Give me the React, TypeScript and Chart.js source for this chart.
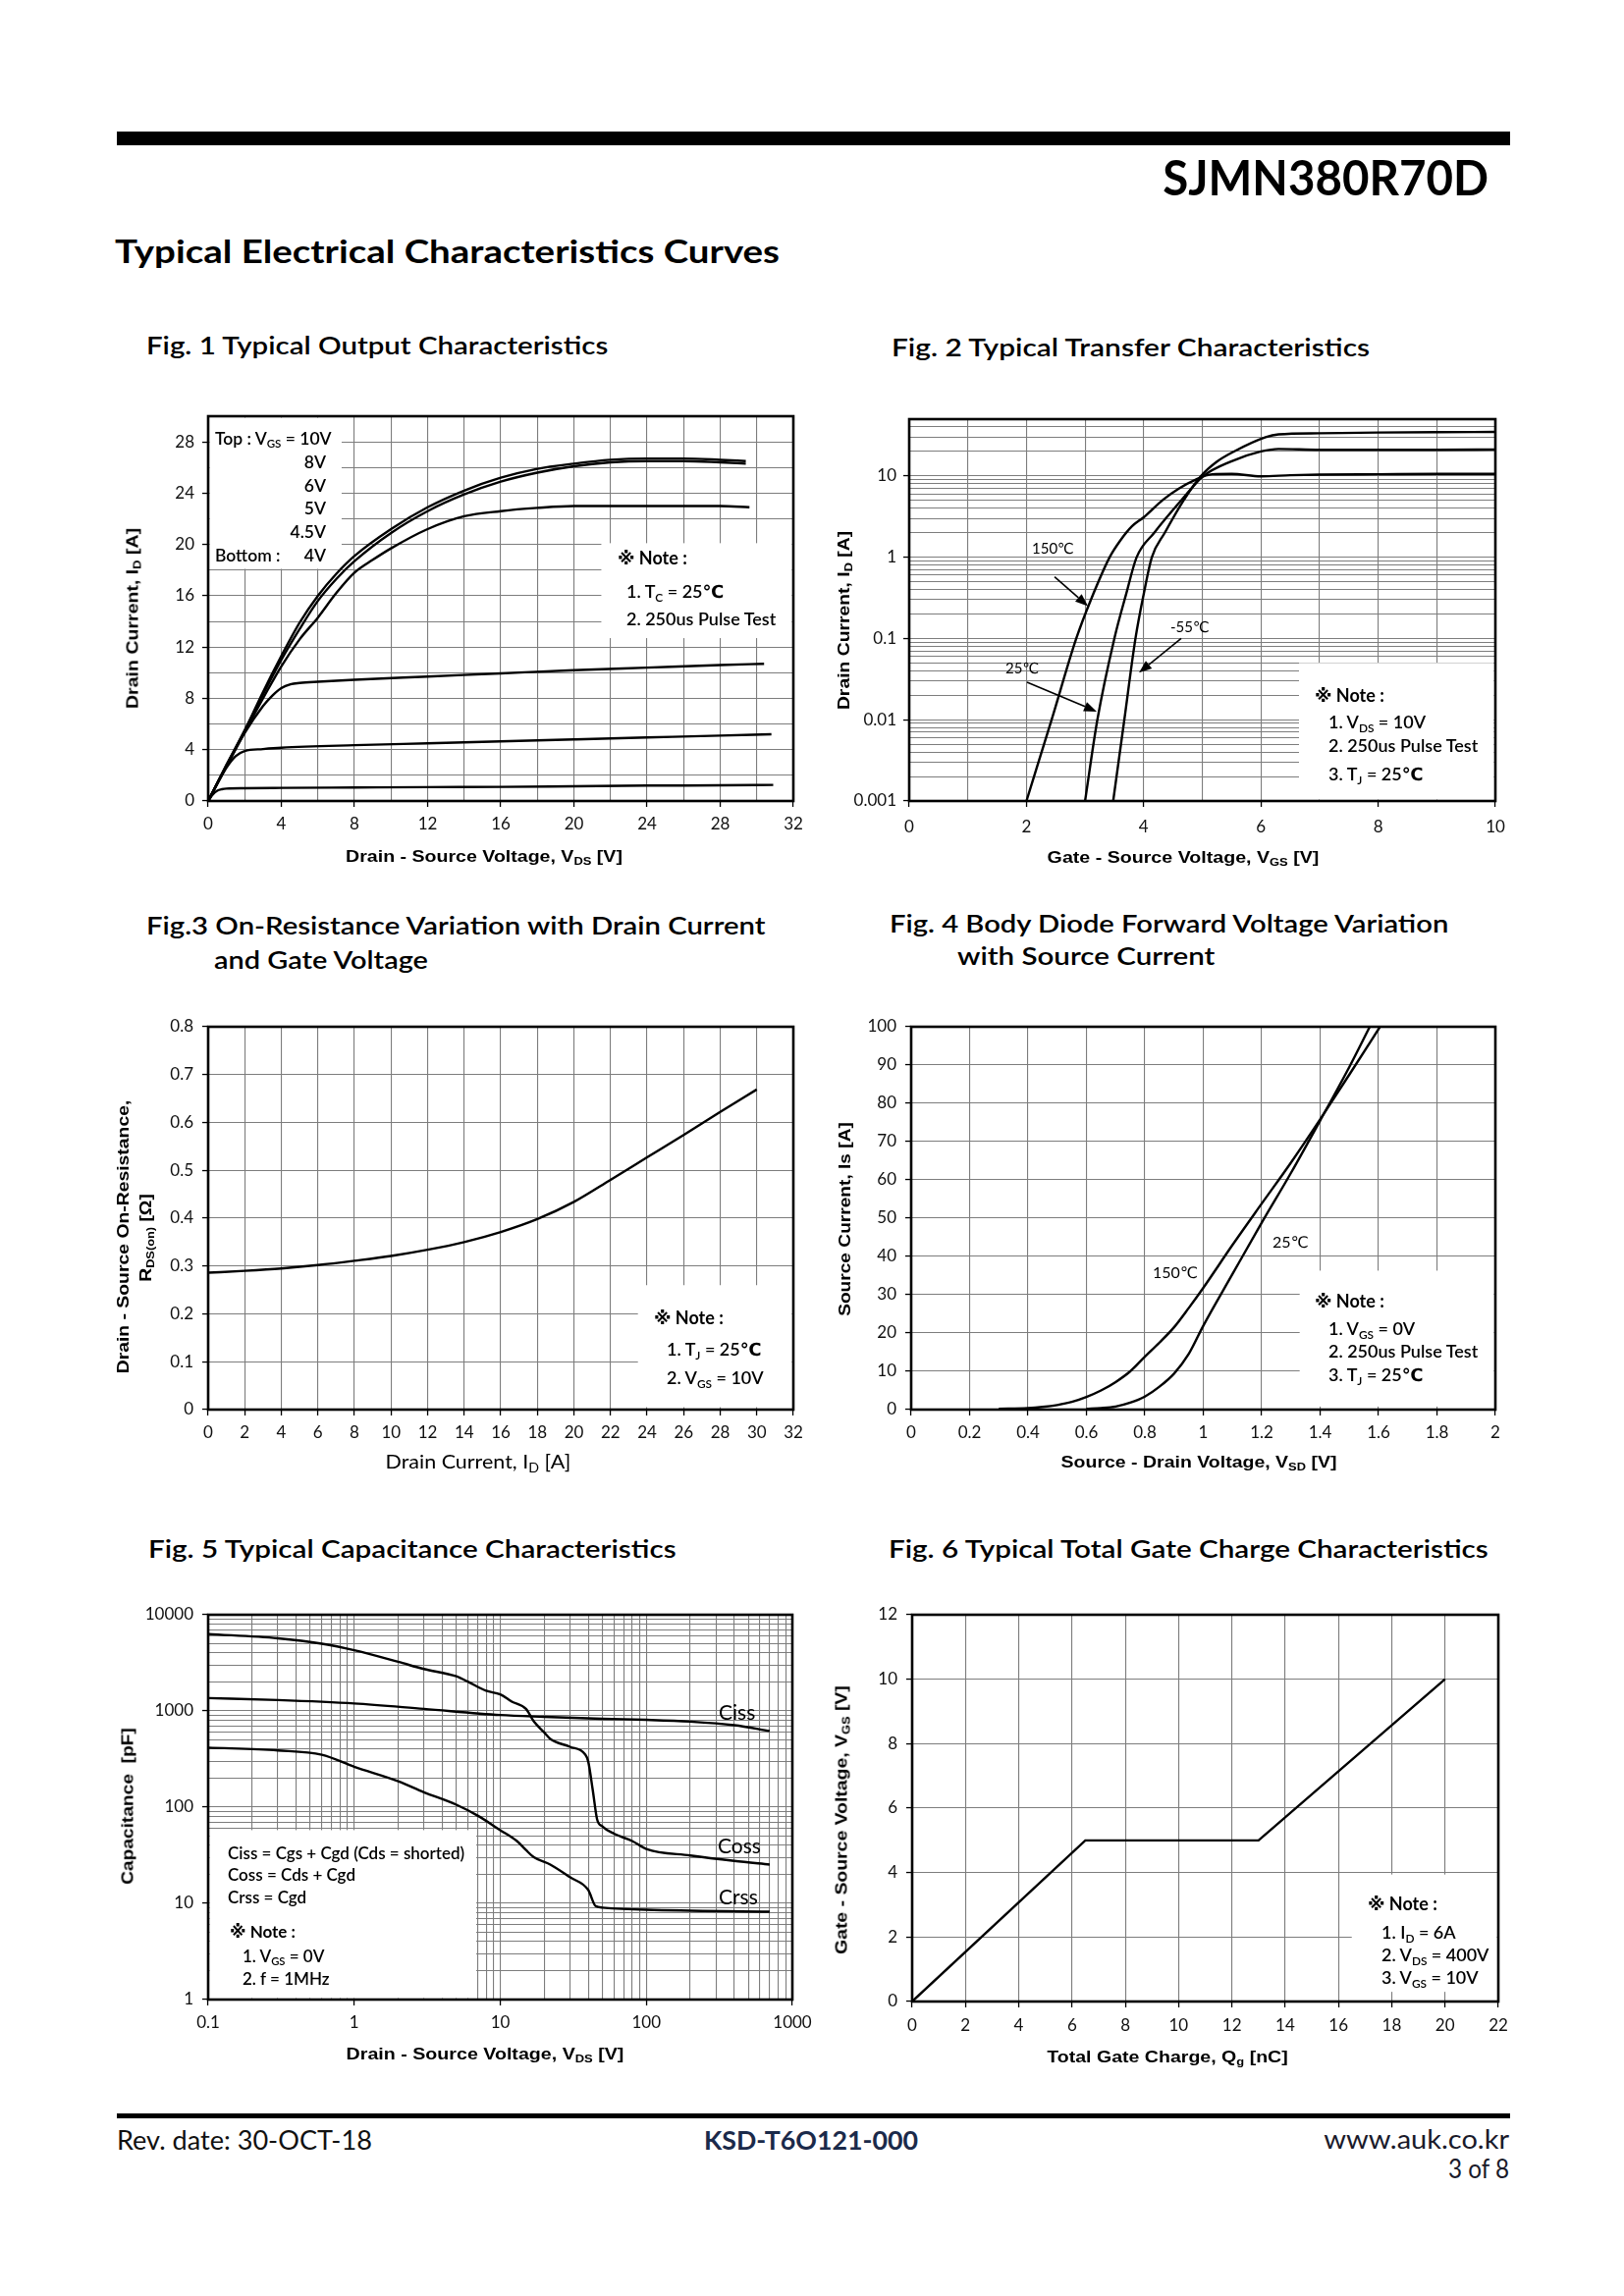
import React, { useEffect, useLayoutEffect, useRef } from 'react';
import { Chart, registerables } from 'chart.js';

Chart.register(...registerables);

/* ================= DATA ================= */

/* Fig. 1 Typical Output Characteristics (VDS [V] -> ID [A]) */
const fig1XTickLabels = ['0', '4', '8', '12', '16', '20', '24', '28', '32'];
const fig1YTickLabels = ['0', '4', '8', '12', '16', '20', '24', '28'];
const fig1Vds10V = [0, 1, 2, 3, 4, 5, 6, 7, 8, 10, 12, 14, 16, 18, 20, 22, 24, 26, 28, 29.4];
const fig1Id10V = [0, 2.8, 5.5, 8.5, 11.3, 13.9, 16.0, 17.7, 19.1, 21.2, 22.9, 24.2, 25.2, 25.9, 26.3, 26.6, 26.7, 26.7, 26.6, 26.5];
const fig1Vds8V = [0, 1, 2, 3, 4, 5, 6, 7, 8, 10, 12, 14, 16, 18, 20, 22, 24, 26, 28, 29.4];
const fig1Id8V = [0, 2.8, 5.5, 8.3, 11.0, 13.4, 15.6, 17.3, 18.7, 20.9, 22.6, 23.9, 24.9, 25.6, 26.1, 26.4, 26.5, 26.5, 26.4, 26.3];
const fig1Vds6V = [0, 1, 2, 3, 4, 5, 6, 7, 8, 9, 10, 12, 14, 16, 18, 20, 24, 28, 29.6];
const fig1Id6V = [0, 2.7, 5.4, 8.0, 10.5, 12.6, 14.3, 16.2, 17.8, 18.8, 19.7, 21.2, 22.2, 22.6, 22.85, 23.0, 23.0, 23.0, 22.9];
const fig1Vds5V = [0, 0.5, 1, 2, 3, 3.5, 4, 4.5, 5, 6, 8, 12, 16, 20, 24, 28, 30.4];
const fig1Id5V = [0, 1.4, 2.7, 5.3, 7.4, 8.2, 8.8, 9.1, 9.2, 9.3, 9.45, 9.7, 9.95, 10.2, 10.4, 10.6, 10.7];
const fig1Vds45V = [0, 0.5, 1, 1.5, 2, 3, 4, 8, 12, 16, 20, 24, 28, 30.8];
const fig1Id45V = [0, 1.35, 2.6, 3.5, 3.9, 4.05, 4.15, 4.35, 4.5, 4.65, 4.8, 4.95, 5.1, 5.2];
const fig1Vds4V = [0, 0.25, 0.5, 0.75, 1, 2, 4, 8, 12, 16, 20, 24, 28, 30.9];
const fig1Id4V = [0, 0.5, 0.8, 0.92, 0.97, 1.0, 1.02, 1.05, 1.08, 1.1, 1.15, 1.2, 1.22, 1.25];

/* Fig. 2 Typical Transfer Characteristics (VGS [V] -> ID [A], log) */
const fig2XTickLabels = ['0', '2', '4', '6', '8', '10'];
const fig2YTickLabels = ['0.001', '0.01', '0.1', '1', '10'];
const fig2Vgs150 = [2.0, 2.43, 2.85, 3.1, 3.42, 3.6, 3.8, 4.0, 4.33, 4.6, 4.87, 5.17, 5.5, 6.0, 6.5, 7, 8, 9, 10];
const fig2Id150 = [0.001, 0.01, 0.1, 0.3, 1.0, 1.6, 2.4, 3.1, 5.1, 7.0, 8.9, 10.5, 10.6, 9.9, 10.2, 10.4, 10.5, 10.6, 10.6];
const fig2Vgs25 = [3.0, 3.21, 3.5, 3.7, 3.88, 4.18, 4.64, 5.02, 5.48, 6.0, 6.3, 7, 8, 9, 10];
const fig2Id25 = [0.001, 0.01, 0.1, 0.35, 1, 2, 5, 10, 15, 20, 21.5, 21, 21, 21, 21.2];
const fig2VgsM55 = [3.48, 3.67, 3.86, 4.0, 4.14, 4.36, 4.68, 4.98, 5.25, 5.54, 6.08, 6.3, 7, 8, 9, 10];
const fig2IdM55 = [0.001, 0.01, 0.1, 0.35, 1, 2, 5, 10, 15, 20, 30, 32.5, 33.5, 34.2, 34.6, 34.8];

/* Fig. 3 On-Resistance vs Drain Current */
const fig3XTickLabels = ['0', '2', '4', '6', '8', '10', '12', '14', '16', '18', '20', '22', '24', '26', '28', '30', '32'];
const fig3YTickLabels = ['0', '0.1', '0.2', '0.3', '0.4', '0.5', '0.6', '0.7', '0.8'];
const fig3Id = [0, 2, 4, 6, 8, 10, 12, 14, 16, 18, 20, 22, 24, 26, 28, 30];
const fig3Rds = [0.286, 0.290, 0.295, 0.302, 0.311, 0.321, 0.334, 0.350, 0.371, 0.398, 0.434, 0.480, 0.527, 0.574, 0.622, 0.669];

/* Fig. 4 Body Diode Forward Voltage */
const fig4XTickLabels = ['0', '0.2', '0.4', '0.6', '0.8', '1', '1.2', '1.4', '1.6', '1.8', '2'];
const fig4YTickLabels = ['0', '10', '20', '30', '40', '50', '60', '70', '80', '90', '100'];
const fig4Vsd150 = [0.3, 0.4, 0.45, 0.5, 0.55, 0.6, 0.65, 0.7, 0.75, 0.8, 0.85, 0.9, 0.95, 1.0, 1.1, 1.2, 1.3, 1.4, 1.5, 1.605];
const fig4Is150 = [0.2, 0.4, 0.7, 1.2, 2.0, 3.3, 5.0, 7.2, 10.0, 13.8, 17.5, 21.5, 26.5, 31.8, 43, 53.8, 64.5, 75.8, 87.5, 100];
const fig4Vsd25 = [0.6, 0.65, 0.7, 0.75, 0.8, 0.85, 0.9, 0.95, 1.0, 1.1, 1.2, 1.3, 1.4, 1.5, 1.57];
const fig4Is25 = [0.2, 0.4, 0.8, 1.8, 3.4, 6.0, 9.4, 14.5, 21.9, 35.4, 48.8, 61.8, 75.5, 89.5, 100];

/* Fig. 5 Capacitance (VDS [V] -> C [pF], log-log) */
const fig5XTickLabels = ['0.1', '1', '10', '100', '1000'];
const fig5YTickLabels = ['1', '10', '100', '1000', '10000'];
const fig5VdsCiss = [0.1, 0.3, 1, 3, 10, 20, 50, 100, 200, 400, 700];
const fig5Ciss = [1362, 1300, 1197, 1051, 907, 869, 830, 809, 775, 711, 619];
const fig5VdsCoss = [0.1, 0.3, 0.6, 1, 2, 3, 5, 6, 8, 10, 12, 15, 17, 20, 22, 30, 38, 40, 43, 46, 50, 60, 80, 100, 200, 400, 700];
const fig5Coss = [6310, 5690, 5000, 4277, 3243, 2730, 2291, 2014, 1622, 1486, 1250, 1051, 776, 598, 512, 424, 356, 299, 150, 75, 63, 53, 44.5, 36.8, 31.4, 27.6, 25.3];
const fig5VdsCrss = [0.1, 0.3, 0.6, 1, 2, 3, 5, 7, 10, 13, 15, 17, 22, 30, 40, 45, 50, 100, 700];
const fig5Crss = [416, 388, 350, 263, 186, 143, 106, 81.6, 57.7, 44.5, 35.8, 30.1, 25.3, 18.7, 13.8, 9.35, 9.03, 8.58, 8.2];

/* Fig. 6 Gate Charge */
const fig6XTickLabels = ['0', '2', '4', '6', '8', '10', '12', '14', '16', '18', '20', '22'];
const fig6YTickLabels = ['0', '2', '4', '6', '8', '10', '12'];
const fig6Qg = [0, 6.5, 13, 20];
const fig6Vgs = [0, 5, 5, 10];

/* ================= HELPERS ================= */

const DOC = "Lato, 'Open Sans', 'DejaVu Sans', sans-serif";
const ARIAL = "'Liberation Sans', Arial, sans-serif";
const TICK_FONT = "Lato, 'Open Sans', sans-serif";
const GRID = '#7d7d7d';

const clean = (v: number) => parseFloat(v.toPrecision(10));
const range = (a: number, b: number, s: number) => {
  const out: number[] = [];
  for (let i = 0; a + i * s <= b + 1e-9; i++) out.push(clean(a + i * s));
  return out;
};
const logGrid = (min: number, max: number) => {
  const out: number[] = [];
  for (let e = Math.floor(Math.log10(min)); e <= Math.ceil(Math.log10(max)); e++) {
    for (let m = 1; m <= 9; m++) {
      const v = clean(m * Math.pow(10, e));
      if (v >= min - 1e-12 && v <= max + 1e-9) out.push(v);
    }
  }
  return out;
};

type Axis = { type: 'linear' | 'logarithmic'; min: number; max: number; grid: number[]; labels: string[]; pad: number };
type Box = { x0: number; x1: number; y0: number; y1: number };
type Arrow = { x1: number; y1: number; x2: number; y2: number };
type Spec = {
  left: number; top: number; width: number; height: number;
  plot: { L: number; T: number; R: number; B: number };
  x: Axis; y: Axis; datasets: any[]; boxes?: Box[]; arrows?: Arrow[];
};

const labelFor = (ax: Axis, v: number) => {
  for (const s of ax.labels) {
    const lv = Number(s);
    if (Math.abs(v - lv) <= 1e-9 + 1e-6 * Math.abs(lv)) return s;
  }
  return '';
};

const curve = (xs: number[], ys: number[], smooth = true) => ({
  data: xs.map((x, i) => ({ x, y: ys[i] })),
  showLine: true,
  borderColor: '#000',
  backgroundColor: '#000',
  borderWidth: 2.4,
  pointRadius: 0,
  fill: false,
  cubicInterpolationMode: smooth ? 'monotone' : 'default',
  tension: 0,
});

const makeDecor = (boxes: Box[], arrows: Arrow[]) => ({
  id: 'decor',
  beforeDatasetsDraw(chart: any) {
    const { ctx, chartArea: ca, scales } = chart;
    const sx = scales.x, sy = scales.y;
    ctx.save();
    ctx.fillStyle = '#fff';
    boxes.forEach((b) => {
      const x0 = Math.max(ca.left + 1.5, sx.getPixelForValue(b.x0));
      const x1 = Math.min(ca.right - 1.5, sx.getPixelForValue(b.x1));
      const yb = Math.min(ca.bottom - 1.5, sy.getPixelForValue(b.y0));
      const yt = Math.max(ca.top + 1.5, sy.getPixelForValue(b.y1));
      ctx.fillRect(x0, yt, x1 - x0, yb - yt);
    });
    ctx.restore();
  },
  afterDraw(chart: any) {
    const { ctx, chartArea: ca, scales } = chart;
    const sx = scales.x, sy = scales.y;
    ctx.save();
    ctx.strokeStyle = '#000';
    ctx.fillStyle = '#000';
    arrows.forEach((a) => {
      const x1 = sx.getPixelForValue(a.x1), y1 = sy.getPixelForValue(a.y1);
      const x2 = sx.getPixelForValue(a.x2), y2 = sy.getPixelForValue(a.y2);
      const ang = Math.atan2(y2 - y1, x2 - x1);
      const hl = 13, hw = 5;
      const bx = x2 - hl * Math.cos(ang), by = y2 - hl * Math.sin(ang);
      ctx.lineWidth = 1.6;
      ctx.beginPath(); ctx.moveTo(x1, y1); ctx.lineTo(bx, by); ctx.stroke();
      ctx.beginPath();
      ctx.moveTo(x2, y2);
      ctx.lineTo(bx + hw * Math.sin(ang), by - hw * Math.cos(ang));
      ctx.lineTo(bx - hw * Math.sin(ang), by + hw * Math.cos(ang));
      ctx.closePath(); ctx.fill();
    });
    ctx.lineWidth = 2.6;
    ctx.strokeRect(ca.left, ca.top, ca.right - ca.left, ca.bottom - ca.top);
    ctx.restore();
  },
});

function ChartBox({ spec }: { spec: Spec }) {
  const ref = useRef<HTMLCanvasElement>(null);
  useEffect(() => {
    const c = ref.current;
    if (!c) return;
    const { plot } = spec;
    const padTop = plot.T - spec.top;
    const padRight = spec.left + spec.width - plot.R;
    const yW = plot.L - spec.left;
    const xH = spec.top + spec.height - plot.B;
    const mk = (ax: Axis, isX: boolean) => ({
      type: ax.type,
      min: ax.min,
      max: ax.max,
      bounds: 'data',
      afterBuildTicks: (s: any) => { s.ticks = ax.grid.map((v) => ({ value: v })); },
      afterFit: (s: any) => { if (isX) s.height = xH; else s.width = yW; },
      ticks: {
        autoSkip: false, maxRotation: 0, minRotation: 0, padding: ax.pad,
        color: '#111', font: { family: TICK_FONT, size: 17 },
        callback: (v: any) => labelFor(ax, Number(v)),
      },
      grid: {
        color: GRID, lineWidth: 1.1, drawTicks: true, tickLength: 6, tickWidth: 1.3,
        tickColor: (ctx: any) => (ctx.tick && ctx.tick.label ? '#000' : 'rgba(0,0,0,0)'),
      },
      border: { display: false },
      title: { display: false },
    });
    const chart = new Chart(c, {
      type: 'scatter',
      data: { datasets: spec.datasets },
      options: {
        responsive: false,
        animation: false,
        devicePixelRatio: 1,
        events: [],
        layout: { padding: { left: 0, top: padTop, right: padRight, bottom: 0 } },
        plugins: { legend: { display: false }, tooltip: { enabled: false }, title: { display: false } },
        scales: { x: mk(spec.x, true), y: mk(spec.y, false) } as any,
      },
      plugins: [makeDecor(spec.boxes || [], spec.arrows || [])],
    } as any);
    return () => chart.destroy();
  }, []);
  return (
    <canvas
      ref={ref}
      width={spec.width}
      height={spec.height}
      style={{ position: 'absolute', left: spec.left, top: spec.top, width: spec.width, height: spec.height }}
    />
  );
}

type TP = {
  x: number; y: number; size: number; weight?: number; family?: string;
  align?: 'left' | 'center' | 'right'; w?: number; color?: string; rot?: boolean; children: React.ReactNode;
};
function T({ x, y, size, weight = 400, family = DOC, align = 'left', w, color = '#000', rot = false, children }: TP) {
  const ref = useRef<HTMLSpanElement>(null);
  const tx = align === 'left' ? '0%' : align === 'center' ? '-50%' : '-100%';
  const base = rot ? 'translate(-50%,-50%) rotate(-90deg)' : `translate(${tx},-50%)`;
  const origin = rot ? '50% 50%' : align === 'left' ? '0% 50%' : align === 'center' ? '50% 50%' : '100% 50%';
  useLayoutEffect(() => {
    const el = ref.current;
    if (!el || !w) return;
    const fit = () => {
      const ow = el.offsetWidth;
      if (ow > 0) el.style.transform = `${base} scaleX(${w / ow})`;
    };
    fit();
    const f: any = (document as any).fonts;
    if (f && f.ready) f.ready.then(fit);
  }, []);
  return (
    <span
      ref={ref}
      style={{
        position: 'absolute', left: x, top: y, fontSize: size, fontWeight: weight, fontFamily: family,
        color, whiteSpace: 'nowrap', lineHeight: 1, transform: base, transformOrigin: origin,
      }}
    >
      {children}
    </span>
  );
}
const S = ({ c }: { c: string }) => (
  <span style={{ fontSize: '0.66em', position: 'relative', top: '0.3em' }}>{c}</span>
);

/* ================= CHART SPECS ================= */

const fig1: Spec = {
  left: 112, top: 405, width: 718, height: 495,
  plot: { L: 212, T: 424, R: 808, B: 816 },
  x: { type: 'linear', min: 0, max: 32, grid: range(0, 32, 2), labels: fig1XTickLabels, pad: 7 },
  y: { type: 'linear', min: 0, max: 30, grid: range(0, 30, 2), labels: fig1YTickLabels, pad: 8 },
  datasets: [
    curve(fig1Vds10V, fig1Id10V), curve(fig1Vds8V, fig1Id8V), curve(fig1Vds6V, fig1Id6V),
    curve(fig1Vds5V, fig1Id5V), curve(fig1Vds45V, fig1Id45V), curve(fig1Vds4V, fig1Id4V),
  ],
  boxes: [{ x0: 0, x1: 7.3, y0: 18.1, y1: 30 }, { x0: 21.5, x1: 32, y0: 12.7, y1: 20.1 }],
};

const fig2: Spec = {
  left: 840, top: 405, width: 705, height: 495,
  plot: { L: 926, T: 427, R: 1523, B: 816 },
  x: { type: 'linear', min: 0, max: 10, grid: range(0, 10, 1), labels: fig2XTickLabels, pad: 10 },
  y: { type: 'logarithmic', min: 0.001, max: 50, grid: logGrid(0.001, 50), labels: fig2YTickLabels, pad: 7 },
  datasets: [curve(fig2Vgs150, fig2Id150), curve(fig2Vgs25, fig2Id25), curve(fig2VgsM55, fig2IdM55)],
  boxes: [{ x0: 6.65, x1: 10, y0: 0.0005, y1: 0.05 }],
  arrows: [
    { x1: 2.48, y1: 0.574, x2: 3.05, y2: 0.25 },
    { x1: 4.64, y1: 0.1, x2: 3.92, y2: 0.038 },
    { x1: 2.01, y1: 0.029, x2: 3.2, y2: 0.0126 },
  ],
};

const fig3: Spec = {
  left: 105, top: 1025, width: 725, height: 485,
  plot: { L: 212, T: 1046, R: 808, B: 1436 },
  x: { type: 'linear', min: 0, max: 32, grid: range(0, 32, 2), labels: fig3XTickLabels, pad: 7 },
  y: { type: 'linear', min: 0, max: 0.8, grid: range(0, 0.8, 0.1), labels: fig3YTickLabels, pad: 9 },
  datasets: [curve(fig3Id, fig3Rds)],
  boxes: [{ x0: 23.5, x1: 32, y0: 0.005, y1: 0.26 }],
};

const fig4: Spec = {
  left: 840, top: 1025, width: 705, height: 485,
  plot: { L: 928, T: 1046, R: 1523, B: 1436 },
  x: { type: 'linear', min: 0, max: 2, grid: range(0, 2, 0.2), labels: fig4XTickLabels, pad: 7 },
  y: { type: 'linear', min: 0, max: 100, grid: range(0, 100, 10), labels: fig4YTickLabels, pad: 9 },
  datasets: [curve(fig4Vsd150, fig4Is150), curve(fig4Vsd25, fig4Is25)],
  boxes: [{ x0: 1.33, x1: 2, y0: 0.8, y1: 36.3 }],
};

const fig5: Spec = {
  left: 105, top: 1620, width: 730, height: 490,
  plot: { L: 212, T: 1645, R: 807, B: 2037 },
  x: { type: 'logarithmic', min: 0.1, max: 1000, grid: logGrid(0.1, 1000), labels: fig5XTickLabels, pad: 7 },
  y: { type: 'logarithmic', min: 1, max: 10000, grid: logGrid(1, 10000), labels: fig5YTickLabels, pad: 9 },
  datasets: [curve(fig5VdsCiss, fig5Ciss), curve(fig5VdsCoss, fig5Coss), curve(fig5VdsCrss, fig5Crss)],
  boxes: [{ x0: 0.1, x1: 6.84, y0: 1, y1: 57.7 }],
};

const fig6: Spec = {
  left: 840, top: 1620, width: 710, height: 490,
  plot: { L: 929, T: 1645, R: 1526, B: 2039 },
  x: { type: 'linear', min: 0, max: 22, grid: range(0, 22, 2), labels: fig6XTickLabels, pad: 8 },
  y: { type: 'linear', min: 0, max: 12, grid: range(0, 12, 2), labels: fig6YTickLabels, pad: 9 },
  datasets: [curve(fig6Qg, fig6Vgs, false)],
  boxes: [{ x0: 16.5, x1: 22, y0: 0.3, y1: 3.94 }],
};

/* ================= PAGE ================= */

export default function App() {
  const note = 18;
  const nw = 600;
  const lg = 17.5;
  const f5 = 17;
  return (
    <div style={{ position: 'absolute', left: 0, top: 0, width: 1654, height: 2339, background: '#fff', overflow: 'hidden', fontFamily: DOC, color: '#000' }}>
      {/* header */}
      <div style={{ position: 'absolute', left: 119, top: 134, width: 1419, height: 14, background: '#000' }} />
      <T x={1516} y={180} size={49} weight={700} align="right" w={332}>SJMN380R70D</T>
      <T x={117} y={255} size={33} weight={700} w={677}>Typical Electrical Characteristics Curves</T>

      {/* figure titles */}
      <T x={149} y={352} size={24} weight={600} w={470}>Fig. 1 Typical Output Characteristics</T>
      <T x={908} y={354} size={24} weight={600} w={487}>Fig. 2 Typical Transfer Characteristics</T>
      <T x={149} y={943} size={24} weight={600} w={631}>Fig.3 On-Resistance Variation with Drain Current</T>
      <T x={218} y={978} size={24} weight={600} w={218}>and Gate Voltage</T>
      <T x={906} y={941} size={24} weight={600} w={569}>Fig. 4 Body Diode Forward Voltage Variation</T>
      <T x={975} y={974} size={24} weight={600} w={262}>with Source Current</T>
      <T x={151} y={1578} size={24} weight={600} w={537}>Fig. 5 Typical Capacitance Characteristics</T>
      <T x={905} y={1578} size={24} weight={600} w={611}>Fig. 6 Typical Total Gate Charge Characteristics</T>

      {/* charts */}
      <ChartBox spec={fig1} />
      <ChartBox spec={fig2} />
      <ChartBox spec={fig3} />
      <ChartBox spec={fig4} />
      <ChartBox spec={fig5} />
      <ChartBox spec={fig6} />

      {/* axis titles */}
      <T x={135} y={630} size={17} weight={700} family={ARIAL} rot w={184}>Drain Current, I<S c="D" /> [A]</T>
      <T x={493} y={872} size={17} weight={700} family={ARIAL} align="center" w={282}>Drain - Source Voltage, V<S c="DS" /> [V]</T>
      <T x={859} y={632} size={17} weight={700} family={ARIAL} rot w={182}>Drain Current, I<S c="D" /> [A]</T>
      <T x={1205} y={873} size={17} weight={700} family={ARIAL} align="center" w={277}>Gate - Source Voltage, V<S c="GS" /> [V]</T>
      <T x={125} y={1260} size={17} weight={700} family={ARIAL} rot w={279}>Drain - Source On-Resistance,</T>
      <T x={148} y={1261} size={17} weight={700} family={ARIAL} rot w={90}>R<S c="DS(on)" /> [Ω]</T>
      <T x={487} y={1488} size={20} weight={400} align="center" w={189}>Drain Current, I<S c="D" /> [A]</T>
      <T x={860} y={1242} size={17} weight={700} family={ARIAL} rot w={198}>Source Current, Is [A]</T>
      <T x={1221} y={1489} size={17} weight={700} family={ARIAL} align="center" w={281}>Source - Drain Voltage, V<S c="SD" /> [V]</T>
      <T x={130} y={1840} size={17} weight={700} family={ARIAL} rot w={160}>Capacitance&nbsp;&nbsp;[pF]</T>
      <T x={494} y={2092} size={17} weight={700} family={ARIAL} align="center" w={283}>Drain - Source Voltage, V<S c="DS" /> [V]</T>
      <T x={857} y={1854} size={17} weight={700} family={ARIAL} rot w={274}>Gate - Source Voltage, V<S c="GS" /> [V]</T>
      <T x={1189} y={2095} size={17} weight={700} family={ARIAL} align="center" w={245}>Total Gate Charge, Q<S c="g" /> [nC]</T>

      {/* Fig 1 legend & note */}
      <T x={219} y={447} size={lg} weight={nw}>Top : V<S c="GS" /> = 10V</T>
      <T x={332} y={471} size={lg} weight={nw} align="right">8V</T>
      <T x={332} y={495} size={lg} weight={nw} align="right">6V</T>
      <T x={332} y={518} size={lg} weight={nw} align="right">5V</T>
      <T x={332} y={542} size={lg} weight={nw} align="right">4.5V</T>
      <T x={219} y={566} size={lg} weight={nw}>Bottom :</T>
      <T x={332} y={566} size={lg} weight={nw} align="right">4V</T>
      <T x={629} y={568} size={18} weight={700}>※ Note :</T>
      <T x={638} y={602} size={note} weight={nw}>1. T<S c="C" /> = 25℃</T>
      <T x={638} y={630} size={note} weight={nw}>2. 250us Pulse Test</T>

      {/* Fig 2 labels & note */}
      <T x={1051} y={558} size={15}>150℃</T>
      <T x={1192} y={638} size={15}>-55℃</T>
      <T x={1024} y={680} size={15}>25℃</T>
      <T x={1339} y={708} size={18} weight={700}>※ Note :</T>
      <T x={1353} y={735} size={note} weight={nw}>1. V<S c="DS" /> = 10V</T>
      <T x={1353} y={759} size={note} weight={nw}>2. 250us Pulse Test</T>
      <T x={1353} y={788} size={note} weight={nw}>3. T<S c="J" /> = 25℃</T>

      {/* Fig 3 note */}
      <T x={666} y={1342} size={18} weight={700}>※ Note :</T>
      <T x={679} y={1374} size={note} weight={nw}>1. T<S c="J" /> = 25℃</T>
      <T x={679} y={1403} size={note} weight={nw}>2. V<S c="GS" /> = 10V</T>

      {/* Fig 4 labels & note */}
      <T x={1174} y={1296} size={16}>150℃</T>
      <T x={1296} y={1265} size={16}>25℃</T>
      <T x={1339} y={1325} size={18} weight={700}>※ Note :</T>
      <T x={1353} y={1353} size={note} weight={nw}>1. V<S c="GS" /> = 0V</T>
      <T x={1353} y={1376} size={note} weight={nw}>2. 250us Pulse Test</T>
      <T x={1353} y={1400} size={note} weight={nw}>3. T<S c="J" /> = 25℃</T>

      {/* Fig 5 labels & note */}
      <T x={732} y={1743} size={21}>Ciss</T>
      <T x={731} y={1879} size={21}>Coss</T>
      <T x={732} y={1931} size={21}>Crss</T>
      <T x={232} y={1887} size={f5} weight={nw}>Ciss = Cgs + Cgd (Cds = shorted)</T>
      <T x={232} y={1909} size={f5} weight={nw}>Coss = Cds + Cgd</T>
      <T x={232} y={1932} size={f5} weight={nw}>Crss = Cgd</T>
      <T x={234} y={1967} size={17} weight={700}>※ Note :</T>
      <T x={247} y={1992} size={f5} weight={nw}>1. V<S c="GS" /> = 0V</T>
      <T x={247} y={2015} size={f5} weight={nw}>2. f = 1MHz</T>

      {/* Fig 6 note */}
      <T x={1393} y={1939} size={18} weight={700}>※ Note :</T>
      <T x={1407} y={1968} size={note} weight={nw}>1. I<S c="D" /> = 6A</T>
      <T x={1407} y={1991} size={note} weight={nw}>2. V<S c="DS" /> = 400V</T>
      <T x={1407} y={2014} size={note} weight={nw}>3. V<S c="GS" /> = 10V</T>

      {/* footer */}
      <div style={{ position: 'absolute', left: 119, top: 2153, width: 1419, height: 5, background: '#000' }} />
      <T x={119} y={2179} size={27} w={260} color="#111">Rev. date: 30-OCT-18</T>
      <T x={826} y={2179} size={27} weight={700} align="center" w={218} color="#1b2a4a">KSD-T6O121-000</T>
      <T x={1537} y={2178} size={27} align="right" w={189} color="#1a1a2a">www.auk.co.kr</T>
      <T x={1537} y={2208} size={27} align="right" w={62} color="#1a1a2a">3 of 8</T>
    </div>
  );
}
